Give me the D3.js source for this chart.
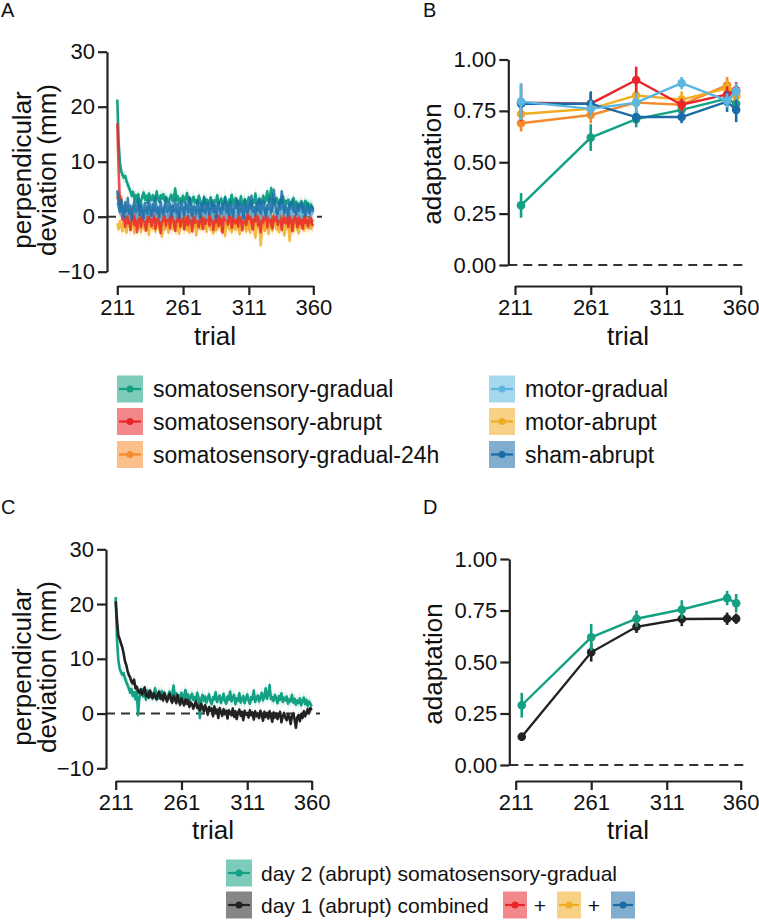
<!DOCTYPE html>
<html>
<head>
<meta charset="utf-8">
<script src="https://cdn.jsdelivr.net/npm/d3@7"></script>
<style>
  body { margin: 0; background: #fff; }
  svg { font-family: "Liberation Sans", Arial, Helvetica, sans-serif; }
</style>
</head>
<body>
<div id="chart"></div>
<script>
// ---- data ----
const firstTrial = 211;
const trialTicks = [211, 261, 311, 360];
const deviationTicks = [-10, 0, 10, 20, 30];
const adaptationTicks = [0, 0.25, 0.5, 0.75, 1];
const blockTrials = [215, 261, 291, 321, 351, 357];

const groupKeys = ["somGradual", "somAbrupt", "somGradual24", "motorGradual", "motorAbrupt", "shamAbrupt"];
const groupLabels = ["somatosensory-gradual", "somatosensory-abrupt", "somatosensory-gradual-24h",
                     "motor-gradual", "motor-abrupt", "sham-abrupt"];
const comboLabels = ["day 2 (abrupt) somatosensory-gradual", "day 1 (abrupt) combined"];

// perpendicular deviation per trial (211..360)
const devSomGradual = [
  21.3,13.5,9.8,8.2,7.6,7.1,7.4,6.5,5.8,5.2,
  4.6,3.8,4.5,3.2,3.9,2.6,4.1,-0.3,2.9,3.7,
  4.4,3.1,3.8,2.5,4.2,3.6,3.0,3.9,2.8,3.5,
  4.6,3.2,2.7,3.9,3.3,4.1,2.9,3.6,3.1,2.6,
  3.4,4.0,2.8,3.5,5.1,3.0,3.7,2.4,3.3,2.9,
  3.8,2.6,3.2,4.3,2.7,3.5,2.2,3.1,3.6,2.5,
  3.0,2.4,3.8,2.9,-0.8,2.7,3.4,2.3,3.1,2.0,
  2.8,3.5,2.2,1.7,3.0,2.6,3.9,2.1,2.7,3.3,
  1.9,2.6,3.6,2.3,1.8,3.1,2.5,4.0,2.2,2.9,
  3.4,1.7,2.8,2.3,3.7,2.0,2.6,3.2,1.9,2.7,
  3.5,2.4,1.8,3.0,2.6,4.2,2.1,2.8,3.3,2.2,
  2.9,3.8,2.4,3.1,4.6,2.7,3.5,5.2,2.6,3.0,
  2.3,3.4,2.8,1.9,3.2,2.5,3.7,2.1,2.9,2.4,
  3.1,1.8,2.6,2.2,3.4,2.0,2.7,1.6,2.4,1.9,
  2.8,1.5,2.3,2.9,1.7,2.5,1.4,2.2,1.8,1.3];
const devSomAbrupt = [
  17.0,8.5,2.4,0.8,-0.6,1.2,-1.8,0.3,-1.2,0.9,
  -2.4,-0.3,1.1,-1.5,0.2,-2.8,-0.6,0.8,-1.9,-0.2,
  1.0,-1.3,-2.5,0.4,-0.9,1.3,-1.7,-0.4,0.6,-2.2,
  -0.8,0.9,-1.4,-3.0,0.1,-0.7,1.2,-1.6,-0.3,0.5,
  -2.1,-0.5,0.8,-1.2,-2.6,0.3,-0.9,1.0,-1.8,-0.4,
  0.6,-2.3,-1.0,0.2,-1.5,0.9,-0.6,-2.7,0.4,-1.1,
  1.1,-0.8,-1.9,0.3,-0.4,-2.2,0.7,-1.3,-0.2,0.8,
  -1.6,-0.5,0.9,-2.4,-0.1,-1.0,0.6,-1.7,0.2,-0.8,
  -2.9,0.5,-0.6,1.0,-1.4,-0.3,0.4,-2.0,-0.9,0.7,
  -1.2,0.1,-1.8,0.6,-0.5,-2.5,0.8,-0.7,-1.5,0.3,
  -0.4,1.2,-1.1,-2.3,0.2,-0.8,0.9,-1.6,-0.2,-2.8,
  0.4,-1.0,-0.1,1.1,-1.9,-0.6,0.5,-1.3,-2.1,0.2,
  -0.7,0.8,-1.5,-0.3,0.6,-2.4,-0.9,0.3,-1.2,0.7,
  -1.8,-0.4,0.5,-2.6,-1.0,0.1,-0.6,-1.9,0.4,-1.3,
  -0.2,-2.2,0.3,-1.1,-0.5,-1.7,-0.8,0.2,-1.4,-1.6];
const devSomGradual24 = [
  3.2,4.3,2.1,3.6,1.4,0.6,2.2,-0.4,1.0,-1.1,
  0.3,1.5,-0.8,0.7,-1.6,0.9,0.1,-1.2,1.3,-0.5,
  -1.9,0.4,-0.7,1.1,-1.3,-0.2,0.8,-2.1,-0.6,0.5,
  -1.0,0.9,-1.7,-0.3,0.6,-1.4,-2.3,0.2,-0.8,0.7,
  -1.5,-0.1,1.0,-1.2,-0.5,0.4,-2.0,-0.9,0.3,-1.6,
  0.6,-0.7,-1.3,0.1,-2.4,-0.4,0.8,-1.1,-0.2,0.5,
  -1.8,-0.6,0.3,-1.4,0.9,-0.9,-2.2,0.2,-0.5,-1.2,
  0.7,-0.3,-1.6,0.4,-1.0,-2.5,0.1,-0.7,0.6,-1.3,
  -0.4,0.9,-1.9,-0.8,0.3,-1.1,-0.2,0.5,-2.1,-0.6,
  0.2,-1.4,-0.9,0.7,-0.3,-1.8,0.4,-1.2,-0.5,1.0,
  -2.3,-0.1,0.6,-1.0,-1.7,0.3,-0.8,-0.2,0.8,-1.5,
  -0.6,0.4,-2.6,-1.1,0.1,-0.4,-1.9,0.5,-0.9,-0.3,
  0.7,-1.3,-0.7,0.2,-2.0,-0.5,0.9,-1.1,-0.2,-1.6,
  0.3,-0.8,-2.4,0.1,-1.2,-0.4,0.6,-1.5,-0.9,-0.1,
  -1.8,0.4,-0.6,-1.3,0.2,-0.7,-2.1,-0.3,-1.0,-0.5];
const devMotorGradual = [
  2.5,1.8,0.6,2.2,1.1,-0.2,1.6,0.4,1.9,0.8,
  -0.4,1.3,0.5,2.0,0.9,-0.3,1.5,0.2,1.1,2.3,
  0.7,-0.5,1.4,0.3,1.8,1.0,-0.1,1.2,2.1,0.6,
  0.0,1.7,0.8,-0.6,1.3,0.4,1.9,1.1,-0.2,0.9,
  1.6,0.3,2.2,0.7,-0.4,1.4,0.5,1.0,1.8,-0.1,
  0.8,1.5,0.2,2.4,0.6,1.2,-0.3,1.7,0.9,0.4,
  1.3,-0.5,1.0,2.0,0.5,1.6,0.1,1.1,-0.2,1.9,
  0.7,1.4,0.3,-0.4,1.2,2.2,0.6,0.9,1.5,0.0,
  1.8,0.4,1.1,-0.3,1.6,0.8,2.1,0.2,1.3,0.6,
  -0.2,1.5,0.9,1.9,0.3,1.2,-0.5,1.7,0.7,1.0,
  2.3,0.4,1.4,-0.1,0.8,1.6,0.5,2.0,1.1,-0.4,
  0.9,1.5,0.2,1.8,0.6,1.3,-0.2,1.0,2.1,0.7,
  0.3,1.4,0.8,-0.3,1.6,0.5,1.2,1.9,0.1,0.9,
  1.5,0.4,1.1,-0.1,1.7,0.6,1.0,0.2,1.3,0.8,
  -0.2,1.2,0.5,1.6,0.3,0.9,1.4,0.1,0.7,0.5];
const devMotorAbrupt = [
  -1.2,-2.3,-0.8,-1.9,-2.6,-0.5,-1.7,-2.9,-1.0,-1.6,
  -2.4,-0.7,-1.8,-3.0,-1.1,-0.4,-2.2,-1.5,-2.8,-0.9,
  -1.6,-2.5,-0.6,-1.9,-3.3,-1.2,-0.8,-2.1,-1.4,-2.7,
  -0.5,-1.8,-2.4,-1.0,-3.6,-1.3,-0.7,-2.0,-1.6,-2.9,
  -0.9,-1.5,-2.3,-0.6,-1.8,-2.6,-1.1,-3.1,-1.4,-0.8,
  -2.2,-1.7,-0.5,-2.5,-1.3,-2.9,-0.9,-1.6,-2.1,-1.0,
  -3.4,-1.5,-0.7,-2.3,-1.2,-2.0,-0.6,-1.8,-2.7,-1.1,
  -0.9,-2.4,-1.6,-3.0,-0.8,-1.9,-2.2,-1.3,-0.5,-2.6,
  -1.4,-2.0,-3.5,-1.1,-0.7,-2.3,-1.5,-2.8,-0.9,-1.7,
  -2.4,-1.0,-1.9,-3.2,-1.3,-0.6,-2.1,-1.6,-2.7,-0.8,
  -1.5,-2.9,-1.2,-0.7,-2.4,-3.8,-1.4,-2.0,-1.1,-5.2,
  -2.6,-1.3,-0.8,-2.2,-1.7,-3.1,-1.0,-1.9,-2.5,-1.2,
  -0.6,-2.3,-1.5,-2.8,-1.1,-0.9,-2.0,-3.4,-1.4,-2.2,
  -1.0,-4.4,-1.8,-1.2,-2.7,-0.8,-1.6,-2.3,-3.0,-1.1,
  -1.7,-0.9,-2.5,-1.3,-2.0,-1.5,-0.7,-2.2,-1.4,-1.8];
const devShamAbrupt = [
  4.8,2.2,0.9,3.1,1.5,-0.2,2.6,1.0,3.4,0.6,
  2.0,-0.4,1.7,2.9,0.8,1.4,3.2,0.3,2.1,1.1,
  -0.3,2.5,1.3,0.5,3.0,1.8,0.2,2.3,1.0,3.5,
  0.7,1.6,-0.1,2.7,1.2,0.4,2.0,3.3,0.9,1.5,
  2.4,0.1,1.9,1.0,3.1,0.6,2.2,-0.2,1.4,2.8,
  1.1,0.3,2.5,1.7,0.8,3.4,1.3,0.2,2.0,1.6,
  0.5,2.9,1.2,-0.1,2.3,1.0,3.6,0.7,1.8,2.4,
  0.4,1.5,3.0,0.9,2.1,-0.2,1.7,2.6,1.1,0.6,
  2.2,1.3,3.3,0.8,1.9,0.3,2.7,1.4,0.1,2.0,
  1.6,3.1,0.5,2.4,1.0,1.8,-0.3,2.9,1.2,0.7,
  2.3,1.5,3.8,0.9,1.7,0.4,2.5,1.1,3.2,0.6,
  1.9,2.8,1.0,0.2,2.1,1.4,3.5,0.8,1.6,4.9,
  2.2,1.0,0.5,2.6,1.3,4.6,1.8,0.7,2.0,1.2,
  0.3,2.4,1.5,3.0,0.9,1.7,0.4,2.2,1.1,1.6,
  2.5,0.8,1.9,0.2,1.4,2.1,0.6,1.3,1.8,0.9];
const devDay1Combined = [
  20.5,17.0,14.2,13.6,12.8,12.1,11.0,9.6,8.9,7.8,
  7.0,6.6,5.8,5.5,6.2,4.6,4.9,4.1,3.8,4.4,
  3.5,3.9,4.8,3.2,3.6,2.9,4.2,3.4,2.8,3.7,
  3.1,2.6,3.5,4.0,2.7,3.3,2.4,3.8,2.9,2.2,
  3.0,3.6,2.5,2.0,3.2,2.7,1.9,3.4,2.3,1.6,
  2.8,2.1,1.5,2.6,1.8,2.4,1.2,2.0,1.7,0.9,
  1.6,2.2,1.0,1.4,0.6,1.8,1.1,0.4,1.5,0.8,
  -0.2,1.2,0.5,0.9,-0.5,1.3,0.2,0.7,-0.8,1.0,
  0.3,-0.4,0.8,-0.1,0.5,-0.9,0.6,0.1,-0.3,0.9,
  -0.6,0.4,-1.0,0.2,0.7,-0.4,0.3,-1.2,0.5,-0.2,
  0.1,-0.7,0.6,-0.3,0.2,-1.1,0.4,-0.5,0.0,-0.8,
  0.5,-0.2,-1.3,0.3,-0.6,0.1,-0.9,0.4,-0.4,-1.5,
  0.2,-0.7,0.0,-1.0,-0.3,0.3,-1.6,-0.5,0.1,-0.8,
  -1.2,-0.2,-0.6,-1.9,-0.4,0.0,-1.1,-2.6,-0.7,-0.3,
  -1.4,-0.1,-0.8,0.4,-0.5,0.2,0.8,0.1,1.0,0.6];
// standard error of the deviation ribbons (same order as groupKeys, then day 1)
const devSE = [1.1, 1.2, 1.0, 1.0, 1.2, 1.0];
const devSEDay1 = 0.7;

// adaptation per block (blockTrials)
const adaptSomGradual   = [0.29, 0.62, 0.71, 0.755, 0.81, 0.785];
const adaptSomAbrupt    = [0.79, 0.785, 0.90, 0.78, 0.83, 0.85];
const adaptSomGradual24 = [0.69, 0.73, 0.79, 0.78, 0.875, 0.83];
const adaptMotorGradual = [0.795, 0.76, 0.79, 0.885, 0.80, 0.845];
const adaptMotorAbrupt  = [0.735, 0.76, 0.825, 0.805, 0.86, 0.82];
const adaptShamAbrupt   = [0.785, 0.785, 0.72, 0.72, 0.795, 0.755];
const adaptDay1Combined = [0.137, 0.547, 0.671, 0.709, 0.71, 0.71];
const seSomGradual   = [0.06, 0.065, 0.04, 0.045, 0.035, 0.045];
const seSomAbrupt    = [0.09, 0.05, 0.065, 0.03, 0.04, 0.04];
const seSomGradual24 = [0.04, 0.04, 0.04, 0.035, 0.04, 0.04];
const seMotorGradual = [0.09, 0.04, 0.05, 0.03, 0.035, 0.04];
const seMotorAbrupt  = [0.03, 0.04, 0.06, 0.04, 0.04, 0.04];
const seShamAbrupt   = [0.03, 0.06, 0.03, 0.03, 0.05, 0.06];
const seDay1Combined = [0.02, 0.045, 0.03, 0.035, 0.03, 0.025];

// ---- styling ----
const colors = {
  somGradual: "#13a083", somAbrupt: "#e8262a", somGradual24: "#f58a2c",
  motorGradual: "#5bb7df", motorAbrupt: "#f1ad22", shamAbrupt: "#1a6ca6",
  day1: "#222222"
};

const devByGroup = [devSomGradual, devSomAbrupt, devSomGradual24, devMotorGradual, devMotorAbrupt, devShamAbrupt];
const adaptByGroup = [adaptSomGradual, adaptSomAbrupt, adaptSomGradual24, adaptMotorGradual, adaptMotorAbrupt, adaptShamAbrupt];
const seByGroup = [seSomGradual, seSomAbrupt, seSomGradual24, seMotorGradual, seMotorAbrupt, seShamAbrupt];

const svg = d3.select("#chart").append("svg")
    .attr("width", 759)
    .attr("height", 922);

// scales
const xA = d3.scaleLinear().domain([211, 360]).range([117.3, 313.3]);
const yA = d3.scaleLinear().domain([-10, 30]).range([271.7, 51.7]);
const xB = d3.scaleLinear().domain([211, 360]).range([515, 740.7]);
const yB = d3.scaleLinear().domain([0, 1]).range([265, 59.5]);
const xC = d3.scaleLinear().domain([211, 360]).range([115.7, 311.7]);
const yC = d3.scaleLinear().domain([-10, 30]).range([768.3, 549.3]);
const xD = d3.scaleLinear().domain([211, 360]).range([515.7, 740.7]);
const yD = d3.scaleLinear().domain([0, 1]).range([765, 559]);

function styleAxis(g) {
    g.select(".domain").attr("stroke", "#222").attr("stroke-width", 2.2);
    g.selectAll(".tick line").attr("stroke", "#222").attr("stroke-width", 2.2);
    g.selectAll(".tick text").attr("fill", "#111").style("font-size", "22px");
}

function axes(x, y, yTicks, yFmt, xAxisY, yAxisX, zeroEnd) {
    svg.append("line")
        .attr("x1", yAxisX).attr("x2", zeroEnd)
        .attr("y1", y(0)).attr("y2", y(0))
        .attr("stroke", "#333").attr("stroke-width", 2)
        .attr("stroke-dasharray", "9,6");
    svg.append("g")
        .attr("transform", `translate(${yAxisX},0)`)
        .call(d3.axisLeft(y).tickValues(yTicks).tickFormat(yFmt).tickSize(9).tickSizeOuter(0).tickPadding(3))
        .call(styleAxis);
    svg.append("g")
        .attr("transform", `translate(0,${xAxisY})`)
        .call(d3.axisBottom(x).tickValues(trialTicks).tickSize(9).tickSizeOuter(0).tickPadding(4))
        .call(styleAxis);
}

function trialSeries(x, y, values, se, color, opacity) {
    const pts = values.map((v, i) => ({ t: firstTrial + i, v: v }));
    svg.append("path")
        .datum(pts)
        .attr("fill", color).attr("fill-opacity", 0.16)
        .attr("d", d3.area().x(d => x(d.t)).y0(d => y(d.v - se)).y1(d => y(d.v + se)));
    svg.append("path")
        .datum(pts)
        .attr("fill", "none").attr("stroke", color)
        .attr("stroke-width", 2.6).attr("stroke-opacity", opacity)
        .attr("stroke-linejoin", "round")
        .attr("d", d3.line().x(d => x(d.t)).y(d => y(d.v)));
}

function blockSeries(x, y, values, se, color) {
    const pts = values.map((v, i) => ({ t: blockTrials[i], v: v, e: se[i] }));
    const g = svg.append("g");
    g.append("path")
        .datum(pts)
        .attr("fill", "none").attr("stroke", color).attr("stroke-width", 2.4)
        .attr("d", d3.line().x(d => x(d.t)).y(d => y(d.v)));
    g.selectAll(".eb").data(pts).enter().append("line")
        .attr("x1", d => x(d.t)).attr("x2", d => x(d.t))
        .attr("y1", d => y(d.v - d.e)).attr("y2", d => y(d.v + d.e))
        .attr("stroke", color).attr("stroke-width", 2.6);
    g.selectAll("circle").data(pts).enter().append("circle")
        .attr("cx", d => x(d.t)).attr("cy", d => y(d.v))
        .attr("r", 4.3).attr("fill", color);
}

function yTitle(lines, cx, cy) {
    lines.forEach((txt, i) => {
        svg.append("text")
            .attr("transform", `translate(${cx + i * 25},${cy}) rotate(-90)`)
            .attr("text-anchor", "middle").attr("dominant-baseline", "central")
            .style("font-size", "26px").attr("fill", "#111")
            .text(txt);
    });
}

function xTitle(cx, cy) {
    svg.append("text")
        .attr("x", cx).attr("y", cy)
        .attr("text-anchor", "middle").attr("dominant-baseline", "central")
        .style("font-size", "26px").attr("fill", "#111")
        .text("trial");
}

function panelLabel(txt, x, y) {
    svg.append("text").attr("x", x).attr("y", y)
        .attr("dominant-baseline", "central")
        .style("font-size", "20px").attr("fill", "#111").text(txt);
}

const fmtInt = d3.format("d");
const fmt2 = d3.format(".2f");

// ---- panel A ----
panelLabel("A", 1, 10);
axes(xA, yA, deviationTicks, d => fmtInt(d).replace("-", "\u2212"), 286, 107, 322);
const orderA = [0, 2, 4, 1, 3, 5];
orderA.forEach(k => trialSeries(xA, yA, devByGroup[k], devSE[k], colors[groupKeys[k]], k === 0 ? 1 : 0.82));
yTitle(["perpendicular", "deviation (mm)"], 22, 170);
xTitle(215, 336);

// ---- panel B ----
panelLabel("B", 423, 10);
axes(xB, yB, adaptationTicks, fmt2, 286, 508.3, 747);
const orderB = [0, 2, 4, 1, 5, 3];
orderB.forEach(k => blockSeries(xB, yB, adaptByGroup[k], seByGroup[k], colors[groupKeys[k]]));
yTitle(["adaptation"], 432, 164);
xTitle(628, 336);

// ---- panel C ----
panelLabel("C", 1, 507);
axes(xC, yC, deviationTicks, d => fmtInt(d).replace("-", "\u2212"), 781, 106, 320);
trialSeries(xC, yC, devSomGradual, devSE[0], colors.somGradual, 1);
trialSeries(xC, yC, devDay1Combined, devSEDay1, colors.day1, 1);
yTitle(["perpendicular", "deviation (mm)"], 22, 667);
xTitle(213, 830);

// ---- panel D ----
panelLabel("D", 423, 507);
axes(xD, yD, adaptationTicks, fmt2, 781, 509.3, 748);
blockSeries(xD, yD, adaptDay1Combined, seDay1Combined, colors.day1);
blockSeries(xD, yD, adaptSomGradual, seSomGradual, colors.somGradual);
yTitle(["adaptation"], 433, 664);
xTitle(628, 830);

// ---- legends ----
function legendKey(x, cy, color, w, h) {
    const g = svg.append("g");
    g.append("rect").attr("x", x).attr("y", cy - h / 2).attr("width", w).attr("height", h)
        .attr("fill", color).attr("fill-opacity", 0.55);
    g.append("line").attr("x1", x + 2).attr("x2", x + w - 2).attr("y1", cy).attr("y2", cy)
        .attr("stroke", color).attr("stroke-width", 2.2);
    g.append("circle").attr("cx", x + w / 2).attr("cy", cy).attr("r", 3.5).attr("fill", color);
}
function legendText(x, cy, txt, size) {
    svg.append("text").attr("x", x).attr("y", cy)
        .attr("dominant-baseline", "central")
        .style("font-size", size + "px").attr("fill", "#111").text(txt);
}

const legRows = [389, 421.5, 454.5];
groupKeys.forEach((k, i) => {
    const col = Math.floor(i / 3), row = i % 3;
    const bx = col === 0 ? 117 : 489;
    legendKey(bx, legRows[row], colors[k], 26, 27);
    legendText(bx + 36, legRows[row], groupLabels[i], 23);
});

const leg2Rows = [873, 905];
legendKey(226, leg2Rows[0], colors.somGradual, 26, 27);
legendText(261, leg2Rows[0], comboLabels[0], 21);
legendKey(226, leg2Rows[1], colors.day1, 26, 27);
legendText(261, leg2Rows[1], comboLabels[1], 21);
const comboKeys = ["somAbrupt", "motorAbrupt", "shamAbrupt"];
comboKeys.forEach((k, i) => {
    const bx = 503 + i * 54;
    legendKey(bx, leg2Rows[1], colors[k], 24, 27);
    if (i < 2) {
        svg.append("text").attr("x", bx + 37).attr("y", leg2Rows[1])
            .attr("text-anchor", "middle").attr("dominant-baseline", "central")
            .style("font-size", "21px").attr("fill", "#111").text("+");
    }
});
</script>
</body>
</html>
